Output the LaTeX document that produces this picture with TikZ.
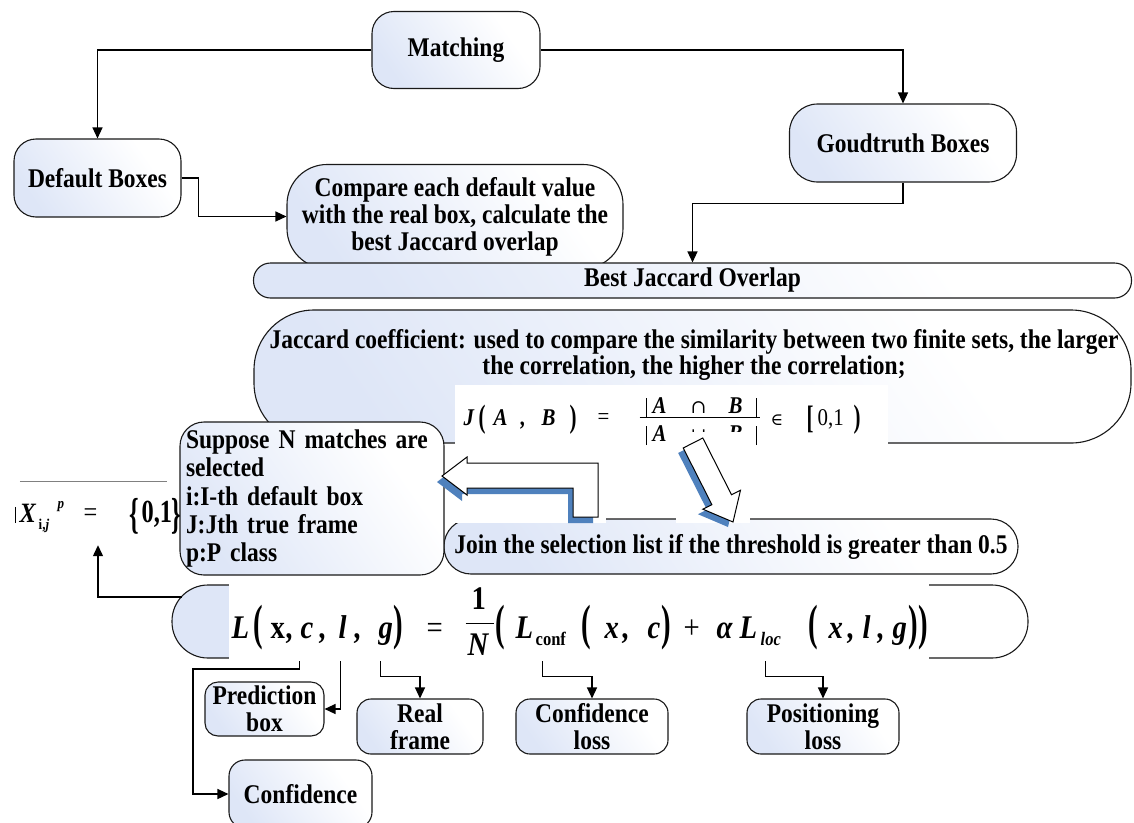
\documentclass[tikz,border=0pt]{standalone}
\usepackage{fontspec}
\setmainfont{Liberation Serif}[FakeStretch=0.87]
\newfontfamily\symfont{DejaVu Serif}
\usepackage{graphicx}
\usetikzlibrary{arrows.meta,calc}

\definecolor{boxblue}{RGB}{222,230,247}
\definecolor{shadowblue}{RGB}{79,129,189}
\definecolor{edge}{RGB}{25,25,25}

% pale blue fading to white, used for every box
\pgfdeclarehorizontalshading{boxshade}{100bp}{color(0bp)=(boxblue); color(25bp)=(boxblue); color(70bp)=(white); color(100bp)=(white)}

% place a token at a horizontal offset and a vertical raise, without width
\newcommand\tk[3]{\rlap{\hspace*{#1pt}\raisebox{#2pt}{#3}}}
% vertically stretched delimiter
\newcommand\tallp[2]{\scalebox{1}[#1]{\upshape #2}}

\begin{document}
\begin{tikzpicture}[x=1pt,y=-1pt,
  txt/.style={font=\fontsize{27}{27}\selectfont\bfseries},
  box/.style={txt, draw=edge, line width=1.1pt, shading=boxshade, shading angle=35,
              inner sep=0pt, align=center},
  link/.style={draw=black, line width=1.3pt, -{Triangle[length=11pt,width=10pt]}},
  blank/.style={fill=white, inner sep=0pt}]
\useasboundingbox (0,0) rectangle (1134,822);

% ---------- top row ----------
\node[box, rounded corners=22pt, minimum width=168pt, minimum height=77pt] (match) at (456,50) {Matching};
\node[box, rounded corners=22pt, minimum width=167pt, minimum height=78pt] (defb) at (97.5,178) {Default Boxes};
\node[box, rounded corners=28pt, minimum width=227pt, minimum height=78pt] (gt) at (903,143) {Goudtruth Boxes};
\node[box, rounded corners=40pt, minimum width=336pt, minimum height=104pt] (cmp) at (455,216.5)
  {Compare each default value\\with the real box, calculate the\\best Jaccard overlap};

\draw[link] (match.west) -| (defb.north);
\draw[link] (match.east) -| (gt.north);
\draw[link] (defb.east) -- ++(17,0) |- (cmp.west);

\node[box, rounded corners=17pt, minimum width=878pt, minimum height=35pt] (bjo) at (692.5,280.5) {Best Jaccard Overlap};
\draw[link] (gt.south) -- ++(0,21) -| (bjo.north);

% ---------- Jaccard coefficient ----------
\node[box, rounded corners=60pt, minimum width=877pt, minimum height=133pt] (jac) at (692.5,376.5) {};
\node[align=center, inner sep=0pt, font=\fontsize{27}{24.5}\selectfont\bfseries] (jact) at (694,355)
  {Jaccard coefficient: used to compare the similarity between two finite sets, the larger\\
   the correlation, the higher the correlation;};

\node[box, rounded corners=27pt, minimum width=574pt, minimum height=55pt] (join) at (731,546.5)
  {Join the selection list if the threshold is greater than 0.5};
\node[box, rounded corners=36pt, minimum width=856pt, minimum height=73pt] (loss) at (600,621.5) {};

\node[box, rounded corners=24pt, minimum width=264pt, minimum height=153pt, align=left, text width=252pt,
      font=\fontsize{27}{28.3}\selectfont\bfseries] (sup) at (312,498.5)
  {Suppose N matches are\\selected\\i:I-th default box\\J:Jth true frame\\p:P class};

% Jaccard formula
\node[blank, minimum width=433pt, minimum height=65pt] (jimg) at (671.5,417.5) {};
\node[inner sep=0pt, anchor=base west, font=\fontsize{24}{24}\selectfont\bfseries\itshape] (jf) at (463,425) {%
  \tk{0}{0}{J}%
  \tk{15}{-2}{\tallp{1.35}{(}}%
  \tk{30}{0}{A}%
  \tk{57}{0}{,}%
  \tk{78}{0}{B}%
  \tk{106}{-2}{\tallp{1.35}{)}}%
  \tk{134}{1}{\upshape\mdseries =}%
  \tk{176}{7}{\rule{120pt}{1pt}}%
  \tk{182}{12}{\rule[-4pt]{1.7pt}{19pt}}%
  \tk{189}{12}{A}%
  \tk{227}{12}{{\symfont\upshape\mdseries\fontsize{19}{19}\selectfont ∩}}%
  \tk{265}{12}{B}%
  \tk{292}{12}{\rule[-4pt]{1.7pt}{19pt}}%
  \tk{182}{-16}{\rule[-4pt]{1.7pt}{19pt}}%
  \tk{189}{-16}{A}%
  \tk{227}{-16}{{\symfont\upshape\mdseries\fontsize{19}{19}\selectfont ∪}}%
  \tk{265}{-16}{B}%
  \tk{292}{-16}{\rule[-4pt]{1.7pt}{19pt}}%
  \tk{307}{0}{{\symfont\upshape\mdseries\fontsize{17}{17}\selectfont ∈}}%
  \tk{343}{-3}{\tallp{1.35}{[}}%
  \tk{354}{0}{\upshape\mdseries 0,1}%
  \tk{390}{-2}{\tallp{1.35}{)}}%
};

% white grounds behind the two hollow arrows
\fill[white] (446,452) rectangle (606,523);
\fill[white] (676,432) rectangle (750,523);

% hollow bent arrow pointing left, with its blue shadow
\begin{scope}[shift={(-5,6)}]
  \fill[shadowblue] (467,463) -- (598,463) -- (598,517) -- (573,517) -- (573,488) -- (467,488)
    -- (467,495) -- (442,476) -- (467,457) -- cycle;
\end{scope}
\draw[fill=white, line width=1pt] (467,463) -- (598,463) -- (598,517) -- (573,517) -- (573,488) -- (467,488)
    -- (467,495) -- (442,476) -- (467,457) -- cycle;

% hollow arrow pointing down-right, with its blue shadow
\begin{scope}[shift={(-5,5)}]
  \fill[shadowblue] (702.8,438.0) -- (731.5,494.7) -- (740.5,490.2) -- (733,522) -- (702.9,509.2)
    -- (711.9,504.7) -- (683.2,448.0) -- cycle;
\end{scope}
\draw[fill=white, line width=1pt] (702.8,438.0) -- (731.5,494.7) -- (740.5,490.2) -- (733,522) -- (702.9,509.2)
    -- (711.9,504.7) -- (683.2,448.0) -- cycle;

% ---------- indicator x_{i,j}^p ----------
\node[inner sep=0pt, minimum width=156pt, minimum height=63pt] (xeq) at (98,513.5) {};
\draw[gray, line width=0.7pt] (xeq.north west) -- ([xshift=-9pt]xeq.north east);
\draw[line width=0.8pt] ([xshift=-4pt,yshift=-25pt]xeq.north west) -- ++(0,16);
\node[inner sep=0pt, anchor=base west, font=\fontsize{28}{28}\selectfont\bfseries\itshape] (xf) at (19,522) {%
  \tk{0}{0}{X}%
  \tk{19}{-7}{\fontsize{15}{15}\selectfont\upshape i,\itshape j}%
  \tk{38}{14}{\fontsize{15}{15}\selectfont p}%
  \tk{64}{1}{\upshape\mdseries =}%
  \tk{110}{-6}{\tallp{1.55}{\{}}%
  \tk{122}{0}{\scalebox{1}[1.15]{\upshape 0,1}}%
  \tk{152}{-6}{\tallp{1.55}{\}}}%
};

% ---------- loss function ----------
\node[blank, minimum width=700pt, minimum height=84pt] (limg) at (579,619) {};
\node[inner sep=0pt, anchor=base west, font=\fontsize{33}{33}\selectfont\bfseries\itshape] (lossf) at (231,638) {%
  \tk{0}{0}{L}%
  \tk{22}{-1}{\tallp{1.5}{(}}%
  \tk{39}{0}{\upshape x}%
  \tk{55}{0}{,}%
  \tk{69}{0}{c}%
  \tk{88}{0}{,}%
  \tk{107}{0}{l}%
  \tk{123}{0}{,}%
  \tk{147}{0}{g}%
  \tk{162}{-1}{\tallp{1.5}{)}}%
  \tk{195}{0}{\upshape\mdseries =}%
  \tk{240}{29}{\upshape 1}%
  \tk{234}{14}{\rule{28pt}{1.4pt}}%
  \tk{236}{-17}{N}%
  \tk{264}{-1}{\tallp{1.5}{(}}%
  \tk{284}{0}{L}%
  \tk{304}{-7}{\fontsize{19}{19}\selectfont\upshape conf}%
  \tk{350}{-1}{\tallp{1.5}{(}}%
  \tk{373}{0}{x}%
  \tk{391}{0}{,}%
  \tk{416}{0}{c}%
  \tk{430}{-1}{\tallp{1.5}{)}}%
  \tk{452}{0}{\upshape\mdseries +}%
  \tk{485}{0}{α}%
  \tk{508}{0}{L}%
  \tk{529}{-7}{\fontsize{19}{19}\selectfont loc}%
  \tk{577}{-1}{\tallp{1.5}{(}}%
  \tk{597}{0}{x}%
  \tk{616}{0}{,}%
  \tk{631}{0}{l}%
  \tk{646}{0}{,}%
  \tk{661}{0}{g}%
  \tk{677}{-1}{\tallp{1.5}{))}}%
};

\coordinate (lossL) at (181.6,597);
\draw[link] (lossL) -| (xeq.south);

% ---------- terms of the loss ----------
\node[box, rounded corners=13pt, minimum width=119pt, minimum height=54pt] (pred) at (264.5,709) {Prediction\\box};
\node[box, rounded corners=14pt, minimum width=126pt, minimum height=55pt] (realf) at (420,726.5) {Real\\frame};
\node[box, rounded corners=14pt, minimum width=152pt, minimum height=55pt] (closs) at (592,726.5) {Confidence\\loss};
\node[box, rounded corners=14pt, minimum width=152pt, minimum height=55pt] (ploss) at (823,726.5) {Positioning\\loss};
\node[box, rounded corners=16pt, minimum width=143pt, minimum height=68pt] (confb) at (300.5,794) {Confidence};

\coordinate (s1) at ($(limg.south west)+(71,0)$);
\coordinate (s2) at ($(limg.south west)+(112,0)$);
\coordinate (s3) at ($(limg.south west)+(152,0)$);
\coordinate (s4) at ($(limg.south west)+(314,0)$);
\coordinate (s5) at ($(limg.south west)+(537,0)$);
\coordinate (k1) at (193,669);

\draw[link] (s1) |- (k1) |- (confb.west);
\draw[link] (s2) |- (pred.east);
\draw[link] (s3) -- ++(0,15) -| (realf.north);
\draw[link] (s4) -- ++(0,15) -| (closs.north);
\draw[link] (s5) -- ++(0,15) -| (ploss.north);
\end{tikzpicture}
\end{document}
